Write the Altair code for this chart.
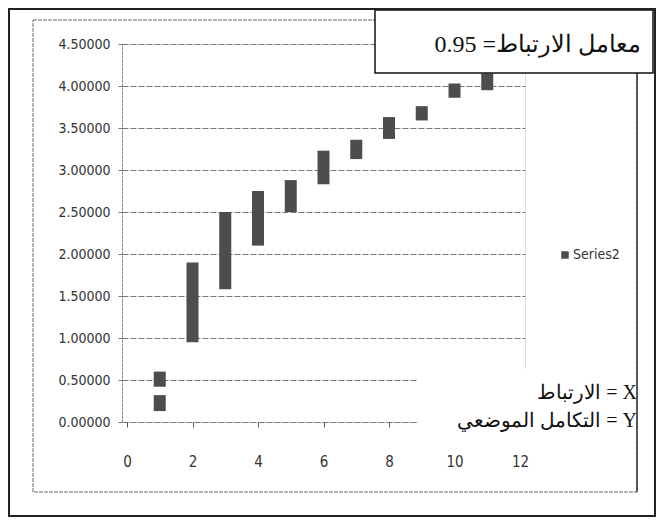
import altair as alt
import pandas as pd

# ---- data ----
xs = [1, 1, 2, 3, 4, 5, 6, 7, 8, 9, 10, 11]
lows = [0.42, 0.13, 0.95, 1.58, 2.10, 2.50, 2.83, 3.13, 3.37, 3.59, 3.86, 3.95]
highs = [0.60, 0.32, 1.90, 2.50, 2.75, 2.88, 3.23, 3.36, 3.63, 3.76, 4.03, 4.15]
series_name = "Series2"
y_ticks = [0, 0.5, 1.0, 1.5, 2.0, 2.5, 3.0, 3.5, 4.0, 4.5]
x_ticks = [0, 2, 4, 6, 8, 10, 12]
title_text = "\u202bمعامل الارتباط= 0.95\u202c"
note_x = "\u202bX = الارتباط\u202c"
note_y = "\u202bY = التكامل الموضعي\u202c"

df = pd.DataFrame({"x": xs, "low": lows, "high": highs, "series": [series_name] * len(xs)})

NARROW = "Liberation Sans Narrow, DejaVu Sans Condensed, Open Sans, sans-serif"
SERIF = "Liberation Serif, DejaVu Serif, serif"

one = alt.Data(values=[{"k": 1}])

bars = alt.Chart(df).mark_bar(width=12, color="#4d4d4d").encode(
    x=alt.X("x:Q", scale=alt.Scale(domain=[0, 12], nice=False),
            axis=alt.Axis(values=x_ticks, grid=False, domain=False, title=None,
                          tickSize=5, tickColor="#555555", labelPadding=27,
                          labelFont=NARROW, labelFontSize=15, labelColor="#333333",
                          labelFlush=False)),
    y=alt.Y("low:Q", scale=alt.Scale(domain=[0, 4.5], nice=False),
            axis=alt.Axis(values=y_ticks, format=".5f", title=None,
                          grid=True, gridColor="#777777", gridDash=[6, 2], gridWidth=1,
                          domain=True, domainColor="#888888", domainDash=[3, 1],
                          tickSize=4, tickColor="#777777", labelPadding=8,
                          labelFont=NARROW, labelFontSize=14, labelColor="#333333")),
    y2="high:Q",
    color=alt.Color("series:N", scale=alt.Scale(range=["#4d4d4d"]),
                    legend=alt.Legend(title=None, orient="none", legendX=436, legendY=204,
                                      symbolType="square", symbolSize=56, symbolStrokeWidth=0,
                                      labelFont=NARROW, labelFontSize=14, labelColor="#333333",
                                      labelOffset=1)),
)

# white box behind the X / Y notes (hides grid ends)
note_bg = alt.Chart(one).mark_rect(color="white").encode(
    x=alt.value(296), x2=alt.value(412), y=alt.value(325), y2=alt.value(392))

note1 = alt.Chart(one).mark_text(align="right", baseline="alphabetic", font=SERIF,
                                 fontSize=20, color="#111111").encode(
    x=alt.value(515), y=alt.value(355), text=alt.value(note_x))
note2 = alt.Chart(one).mark_text(align="right", baseline="alphabetic", font=SERIF,
                                 fontSize=20, color="#111111").encode(
    x=alt.value(515), y=alt.value(383), text=alt.value(note_y))

# title box
title_box = alt.Chart(one).mark_rect(fill="white", stroke="#111111", strokeWidth=1.5).encode(
    x=alt.value(253), x2=alt.value(531), y=alt.value(-34), y2=alt.value(29))
title = alt.Chart(one).mark_text(align="right", baseline="alphabetic", font=SERIF,
                                 fontSize=24, color="#111111").encode(
    x=alt.value(519), y=alt.value(8), text=alt.value(title_text))

# inner and outer frames
inner = alt.Chart(one).mark_rect(fill=None, stroke="#666666", strokeWidth=1, strokeDash=[4, 1]).encode(
    x=alt.value(-89), x2=alt.value(515), y=alt.value(-24), y2=alt.value(448))
inner_right = alt.Chart(one).mark_rule(stroke="#333333", strokeWidth=1.5).encode(
    x=alt.value(515), y=alt.value(29), y2=alt.value(448))
outer = alt.Chart(one).mark_rect(fill=None, stroke="#222222", strokeWidth=2).encode(
    x=alt.value(-113), x2=alt.value(533), y=alt.value(-35), y2=alt.value(472))

chart = alt.layer(bars, note_bg, note1, note2, inner, inner_right, title_box, title, outer).properties(
    width=403, height=378,
    autosize=alt.AutoSizeParams(type="none"),
    padding={"left": 114, "top": 36, "right": 131, "bottom": 96},
).configure_view(stroke=None).configure(background="white")

chart.save("out.html", embed_options={"renderer": "svg", "actions": False})
